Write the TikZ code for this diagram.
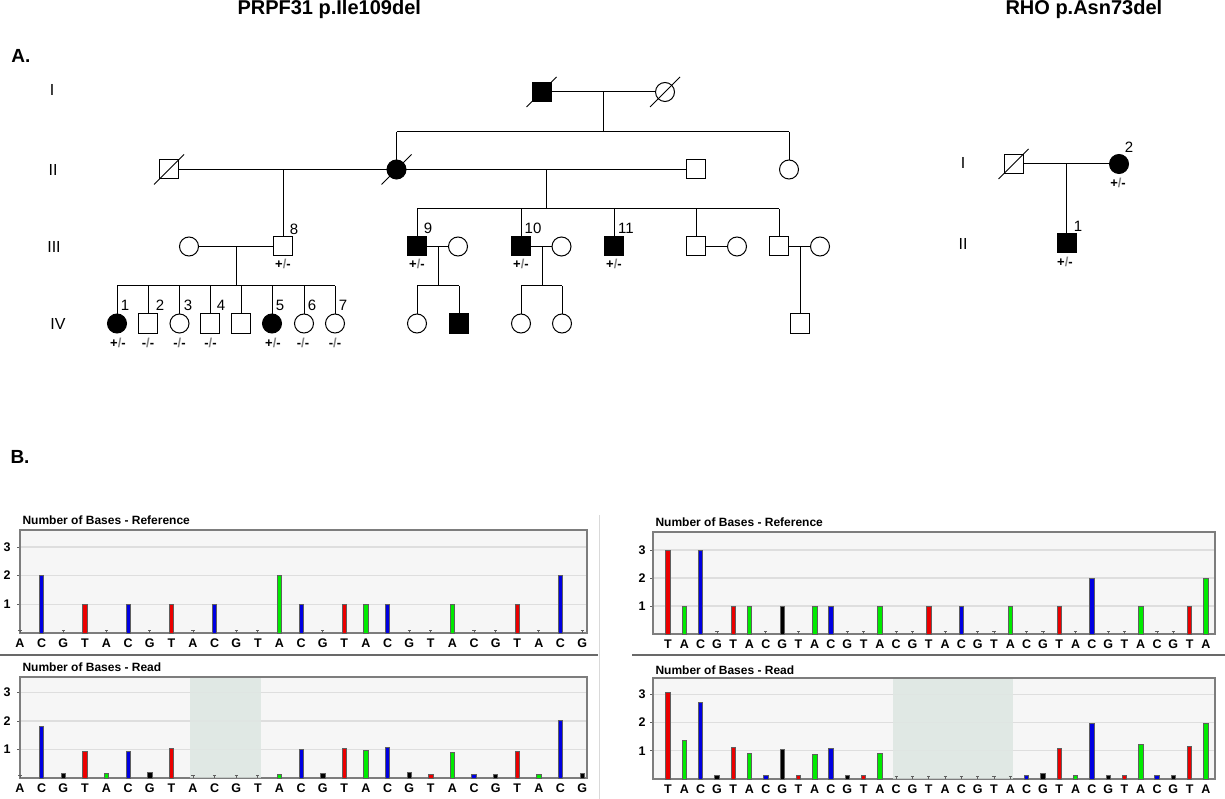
\documentclass[tikz,border=0pt]{standalone}
\usepackage{fontspec}
\setmainfont{Liberation Sans}
\usetikzlibrary{calc}
\definecolor{bgc}{RGB}{246,246,246}
\definecolor{gridc}{RGB}{222,222,222}
\definecolor{boxc}{RGB}{125,125,125}
\definecolor{shadec}{RGB}{224,232,228}
\definecolor{barb}{RGB}{95,95,95}
\definecolor{sepc}{RGB}{105,105,105}
\definecolor{cA}{RGB}{0,235,0}
\definecolor{cC}{RGB}{0,0,225}
\definecolor{cG}{RGB}{0,0,0}
\definecolor{cT}{RGB}{235,0,0}
\newcommand\genPM{+{\color{gray}/}-}
\newcommand\genMM{-{\color{gray}/}-}
\tikzset{
  ped/.style={draw=black,line width=1pt,minimum size=19pt,inner sep=0pt,outer sep=0pt},
  sq/.style={ped,rectangle},
  ci/.style={ped,circle},
  aff/.style={fill=black},
  link/.style={line width=1pt,draw=black},
  titlelab/.style={font=\fontsize{20}{24}\selectfont\bfseries,anchor=west},
  partlab/.style={font=\fontsize{19}{22}\selectfont\bfseries},
  genlab/.style={font=\fontsize{16}{19}\selectfont},
  numlab/.style={font=\fontsize{15}{18}\selectfont},
  gtlab/.style={font=\fontsize{13}{15}\selectfont\bfseries},
  charttitle/.style={font=\fontsize{12}{14}\selectfont\bfseries,anchor=west},
  baselab/.style={font=\fontsize{12.5}{14}\selectfont\bfseries},
  ticklab/.style={font=\fontsize{12.5}{14}\selectfont\bfseries},
}
\newcommand\pedDec[1]{\draw[link] ([shift={(-15,15)}]#1.center) -- ([shift={(15,-15)}]#1.center);}
% #1 left, #2 top, #3 right, #4 base, #5 unit, #6 tick label x
\newcommand\plotbg[6]{%
  \fill[bgc] (#1,#2) rectangle (#3,#4);
}
\newcommand\plotgrid[6]{%
  \foreach \k in {1,2,3} {
    \draw[gridc,line width=1.2pt] (#1,#4-#5*\k) -- (#3,#4-#5*\k);
    \draw[barb,line width=0.8pt] (#1-3,#4-#5*\k) -- (#1,#4-#5*\k);
    \node[ticklab] at (#6,#4-#5*\k) {\k};
  }
  \draw[boxc,line width=1.1pt] (#1,#2) rectangle (#3,#4);
}
% #1 x0, #2 dx, #3 base, #4 unit, #5 list letter/value
\newcommand\barchart[5]{%
  \foreach \b/\v [count=\c from 0] in {#5} {
    \pgfmathsetmacro\xx{#1+#2*\c}
    \draw[barb,line width=0.8pt] (\xx,#3) -- (\xx,#3-2.5);
    \draw[barb,line width=0.8pt] (\xx-1.6,#3-2.5) -- (\xx+1.6,#3-2.5);
    \ifdim\v pt>0pt
      \pgfmathsetmacro\hh{max(#4*\v,3.5)}
      \filldraw[fill=c\b,draw=barb,line width=0.7pt] (\xx-2.2,#3) rectangle (\xx+2.2,#3-\hh);
    \fi
    \node[baselab] at (\xx,#3+10) {\b};
  }
}
\begin{document}
\begin{tikzpicture}[x=1pt,y=-1pt]
\useasboundingbox (0,0) rectangle (1225,799);
\fill[white] (0,0) rectangle (1225,799);

% ---------------- titles and part labels
\node[titlelab] (t1) at (234,9) {PRPF31 p.Ile109del};
\node[titlelab] (t2) at (1002,9) {RHO p.Asn73del};
\node[partlab] (pA) at (21,56) {A.};
\node[partlab] (pB) at (20,457) {B.};

% ---------------- PRPF31 pedigree
\node[genlab] (g1) at (52,90) {I};
\node[genlab] (g2) at (53,170) {II};
\node[genlab] (g3) at (54,247) {III};
\node[genlab] (g4) at (58,324) {IV};

% generation I
\node[sq,aff] (I1) at (541.5,92) {};
\node[ci] (I2) at (665,92) {};
\pedDec{I1}
\pedDec{I2}
\coordinate (jI) at (603,92);
\coordinate (sI) at (603,132);
\coordinate (sIa) at (396.5,132);
\coordinate (sIb) at (789,132);

% generation II
\node[sq] (II1) at (169,169.5) {};
\node[ci,aff] (II2) at (396.5,169.5) {};
\node[sq] (II3) at (696,169.5) {};
\node[ci] (II4) at (789,169.5) {};
\pedDec{II1}
\pedDec{II2}
\coordinate (jIIa) at (283,169.5);
\coordinate (jIIb) at (546,169.5);
\coordinate (sIIb) at (546,209);
\coordinate (sIIl) at (417,209);
\coordinate (sIIr) at (779,209);

% generation III
\node[ci] (III1) at (189,246.5) {};
\node[sq] (III2) at (283,246.5) {};
\node[sq,aff] (III3) at (417,246.5) {};
\node[ci] (III4) at (458,246.5) {};
\node[sq,aff] (III5) at (521,246.5) {};
\node[ci] (III6) at (561.5,246.5) {};
\node[sq,aff] (III7) at (614,246.5) {};
\node[sq] (III8) at (696,246.5) {};
\node[ci] (III9) at (737,246.5) {};
\node[sq] (III10) at (779,246.5) {};
\node[ci] (III11) at (820,246.5) {};
\coordinate (jIIIa) at (236.5,246.5);
\coordinate (sIIIa) at (236.5,286);
\coordinate (sIIIal) at (117,286);
\coordinate (sIIIar) at (335,286);
\coordinate (jIIIb) at (438.5,246.5);
\coordinate (sIIIb) at (438.5,286);
\coordinate (sIIIbl) at (417,286);
\coordinate (sIIIbr) at (459,286);
\coordinate (jIIIc) at (542,246.5);
\coordinate (sIIIc) at (542,286);
\coordinate (sIIIcl) at (521,286);
\coordinate (sIIIcr) at (562,286);
\coordinate (jIIId) at (800,246.5);

% generation IV
\node[ci,aff] (IV1) at (117,323.5) {};
\node[sq] (IV2) at (148,323.5) {};
\node[ci] (IV3) at (179.5,323.5) {};
\node[sq] (IV4) at (210,323.5) {};
\node[sq] (IV5) at (241,323.5) {};
\node[ci,aff] (IV6) at (272,323.5) {};
\node[ci] (IV7) at (304,323.5) {};
\node[ci] (IV8) at (335,323.5) {};
\node[ci] (IV9) at (417,323.5) {};
\node[sq,aff] (IV10) at (459,323.5) {};
\node[ci] (IV11) at (521,323.5) {};
\node[ci] (IV12) at (562,323.5) {};
\node[sq] (IV13) at (800,323.5) {};

% connectors
\draw[link] (I1.east) -- (I2.west);
\draw[link] (jI) -- (sI);
\draw[link] (sIa) -- (sIb);
\draw[link] (sIa) -- (II2.north);
\draw[link] (sIb) -- (II4.north);
\draw[link] (II1.east) -- (II2.west);
\draw[link] (jIIa) -- (III2.north);
\draw[link] (II2.east) -- (II3.west);
\draw[link] (jIIb) -- (sIIb);
\draw[link] (sIIl) -- (sIIr);
\foreach \n in {III3,III5,III7,III8,III10} \draw[link] (\n.north |- sIIl) -- (\n.north);
\draw[link] (III1.east) -- (III2.west);
\draw[link] (jIIIa) -- (sIIIa);
\draw[link] (sIIIal) -- (sIIIar);
\foreach \n in {IV1,IV2,IV3,IV4,IV5,IV6,IV7,IV8} \draw[link] (\n.north |- sIIIal) -- (\n.north);
\draw[link] (III3.east) -- (III4.west);
\draw[link] (jIIIb) -- (sIIIb);
\draw[link] (sIIIbl) -- (sIIIbr);
\foreach \n in {IV9,IV10} \draw[link] (\n.north |- sIIIbl) -- (\n.north);
\draw[link] (III5.east) -- (III6.west);
\draw[link] (jIIIc) -- (sIIIc);
\draw[link] (sIIIcl) -- (sIIIcr);
\foreach \n in {IV11,IV12} \draw[link] (\n.north |- sIIIcl) -- (\n.north);
\draw[link] (III8.east) -- (III9.west);
\draw[link] (III10.east) -- (III11.west);
\draw[link] (jIIId) -- (IV13.north);

% number labels
\node[numlab] (n8) at (294,229) {8};
\node[numlab] (n9) at (428,228) {9};
\node[numlab] (n10) at (533,228) {10};
\node[numlab] (n11) at (626,228) {11};
\node[numlab] (n1) at (125,305) {1};
\node[numlab] (n2) at (160,305) {2};
\node[numlab] (n3) at (188,305) {3};
\node[numlab] (n4) at (221,305) {4};
\node[numlab] (n5) at (280,305) {5};
\node[numlab] (n6) at (312,305) {6};
\node[numlab] (n7) at (343,305) {7};

% genotypes
\node[gtlab] at (283,264) {\genPM};
\node[gtlab] at (417,264) {\genPM};
\node[gtlab] at (521,264) {\genPM};
\node[gtlab] at (614,264) {\genPM};
\node[gtlab] at (118,343) {\genPM};
\node[gtlab] at (148,343) {\genMM};
\node[gtlab] at (179.5,343) {\genMM};
\node[gtlab] at (210.5,343) {\genMM};
\node[gtlab] at (273,343) {\genPM};
\node[gtlab] at (303,343) {\genMM};
\node[gtlab] at (335,343) {\genMM};

% ---------------- RHO pedigree
\node[genlab] (rg1) at (963,163) {I};
\node[genlab] (rg2) at (963,244) {II};
\node[sq] (R1) at (1013.5,164) {};
\node[ci,aff] (R2) at (1119,164) {};
\node[sq,aff] (R3) at (1066.5,243) {};
\pedDec{R1}
\coordinate (jR) at (1066.5,164);
\draw[link] (R1.east) -- (R2.west);
\draw[link] (jR) -- (R3.north);
\node[numlab] (rn2) at (1129,147) {2};
\node[numlab] (rn1) at (1078,226) {1};
\node[gtlab] at (1118,183) {\genPM};
\node[gtlab] at (1065,262) {\genPM};

% ---------------- panel separators
\draw[sepc,line width=1.5pt] (0,655) -- (598,655);
\draw[sepc,line width=1.5pt] (632,655) -- (1225,655);
\draw[black!15,line width=0.8pt] (599.5,515) -- (599.5,799);

% ---------------- left reference chart
\node[charttitle] at (19,520) {Number of Bases - Reference};
\plotbg{20}{530}{587}{633}{28.7}{7}
\plotgrid{20}{530}{587}{633}{28.7}{7}
\barchart{20}{21.62}{633}{28.7}{A/0,C/2,G/0,T/1,A/0,C/1,G/0,T/1,A/0,C/1,G/0,T/0,A/2,C/1,G/0,T/1,A/1,C/1,G/0,T/0,A/1,C/0,G/0,T/1,A/0,C/2,G/0}

% ---------------- left read chart
\node[charttitle] at (19,667) {Number of Bases - Read};
\plotbg{20}{677}{587}{778}{28.5}{7}
\fill[shadec] (190,677.5) rectangle (261,778);
\plotgrid{20}{677}{587}{778}{28.5}{7}
\fill[shadec,opacity=0.7] (190,678) rectangle (261,777.5);
\barchart{20}{21.62}{778}{28.5}{A/0,C/1.82,G/0.15,T/0.95,A/0.15,C/0.95,G/0.2,T/1.05,A/0,C/0,G/0,T/0,A/0.12,C/1.0,G/0.15,T/1.05,A/0.98,C/1.08,G/0.2,T/0.04,A/0.9,C/0.1,G/0.06,T/0.95,A/0.1,C/2.03,G/0.18}

% ---------------- right reference chart
\node[charttitle] at (652,522) {Number of Bases - Reference};
\plotbg{653}{532}{1215}{634}{28}{642}
\plotgrid{653}{532}{1215}{634}{28}{642}
\barchart{668}{16.3}{634}{28}{T/3,A/1,C/3,G/0,T/1,A/1,C/0,G/1,T/0,A/1,C/1,G/0,T/0,A/1,C/0,G/0,T/1,A/0,C/1,G/0,T/0,A/1,C/0,G/0,T/1,A/0,C/2,G/0,T/0,A/1,C/0,G/0,T/1,A/2}

% ---------------- right read chart
\node[charttitle] at (652,670) {Number of Bases - Read};
\plotbg{653}{678}{1215}{779}{28.3}{642}
\fill[shadec] (893,678.5) rectangle (1013,779);
\plotgrid{653}{678}{1215}{779}{28.3}{642}
\fill[shadec,opacity=0.7] (893,679) rectangle (1013,778.5);
\barchart{668}{16.3}{779}{28.3}{T/3.05,A/1.35,C/2.7,G/0.12,T/1.12,A/0.9,C/0.08,G/1.05,T/0.1,A/0.88,C/1.08,G/0.04,T/0.12,A/0.92,C/0,G/0,T/0,A/0,C/0,G/0,T/0,A/0,C/0.05,G/0.2,T/1.08,A/0.12,C/1.95,G/0.1,T/0.1,A/1.22,C/0.1,G/0.1,T/1.15,A/1.95}

\end{tikzpicture}
\end{document}
